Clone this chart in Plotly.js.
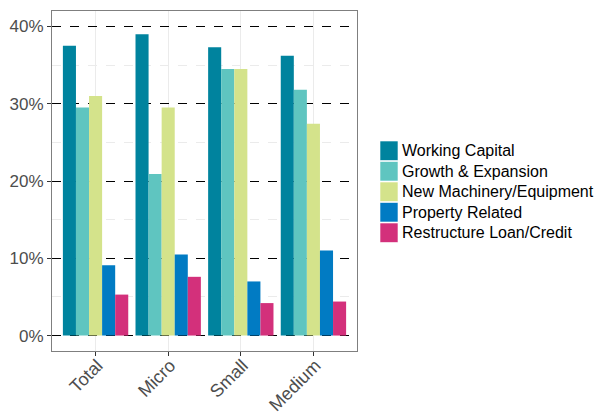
<!DOCTYPE html>
<html>
<head>
<meta charset="utf-8">
<script src="https://cdn.plot.ly/plotly-3.0.1.min.js"></script>
<style>html,body{margin:0;padding:0;background:#fff;}#chart{width:603px;height:412px;}</style>
</head>
<body>
<div id="chart"></div>
<script>
const categories = ["Total", "Micro", "Small", "Medium"];
const seriesNames = ["Working Capital", "Growth & Expansion", "New Machinery/Equipment", "Property Related", "Restructure Loan/Credit"];
const workingCapital = [37.5, 39.0, 37.3, 36.2];
const growthExpansion = [29.5, 20.9, 34.5, 31.8];
const newMachinery = [31.0, 29.5, 34.5, 27.4];
const propertyRelated = [9.1, 10.5, 7.0, 11.0];
const restructureLoan = [5.3, 7.6, 4.2, 4.4];
const seriesColors = ["#00839E", "#5FC5C0", "#D4E38B", "#017BC3", "#D3307B"];
const yTicks = [0, 10, 20, 30, 40];
const yTickLabels = ["0%", "10%", "20%", "30%", "40%"];

const seriesValues = [workingCapital, growthExpansion, newMachinery, propertyRelated, restructureLoan];

const FONT = "Liberation Sans";

const traces = seriesValues.map((vals, i) => ({
  type: "bar",
  name: seriesNames[i],
  x: categories,
  y: vals,
  marker: {color: seriesColors[i], line: {width: 0}},
  showlegend: false,
  hoverinfo: "skip"
}));

const L = 52, R = 357, T = 11, B = 351;
const px = x => (x - L) / (R - L);
const py = y => (B - y) / (B - T);
const keyTop = 140.5, keyH = 20.5;
const shapes = [];
const annotations = [];
seriesNames.forEach((n, i) => {
  const y0 = keyTop + i * keyH;
  shapes.push({
    type: "rect", xref: "paper", yref: "paper",
    x0: px(380), x1: px(398), y0: py(y0 + keyH - 0.5), y1: py(y0 + 0.5),
    fillcolor: seriesColors[i], line: {width: 0.6, color: "#ffffff"}
  });
  annotations.push({
    xref: "paper", yref: "paper", x: px(400), y: py(y0 + keyH / 2),
    xanchor: "left", yanchor: "middle", showarrow: false,
    text: n, font: {family: FONT, size: 16, color: "#000000"}
  });
});

const layout = {
  width: 603, height: 412,
  margin: {l: L, r: 603 - R, t: T, b: 412 - B, pad: 0},
  paper_bgcolor: "#ffffff", plot_bgcolor: "#ffffff",
  barmode: "group", bargap: 0.1, bargroupgap: 0,
  font: {family: FONT, size: 15, color: "#4d4d4d"},
  xaxis: {
    type: "category", range: [-0.6, 3.6],
    showgrid: true, gridcolor: "#ebebeb", gridwidth: 1,
    ticks: "outside", ticklen: 4, tickcolor: "#333333", tickwidth: 1,
    tickangle: -45, tickfont: {family: FONT, size: 18, color: "#4d4d4d"},
    ticklabelshift: 2, ticklabelstandoff: -8,
    showline: true, linecolor: "#7f7f7f", linewidth: 1, mirror: true,
    zeroline: false, fixedrange: true
  },
  yaxis: {
    range: [-2, 42], tickmode: "array", tickvals: yTicks, ticktext: yTickLabels,
    showgrid: true, gridcolor: "#000000", gridwidth: 1, griddash: "dash",
    minor: {tickmode: "array", tickvals: [5, 15, 25, 35], showgrid: true, gridcolor: "#ebebeb", gridwidth: 1, ticks: ""},
    ticks: "outside", ticklen: 4, tickcolor: "#333333", tickwidth: 1,
    tickfont: {family: FONT, size: 17, color: "#4d4d4d"},
    showline: true, linecolor: "#7f7f7f", linewidth: 1, mirror: true,
    zeroline: false, fixedrange: true
  },
  shapes: shapes,
  annotations: annotations,
  showlegend: false
};

Plotly.newPlot("chart", traces, layout, {staticPlot: true, displayModeBar: false});
</script>
</body>
</html>
